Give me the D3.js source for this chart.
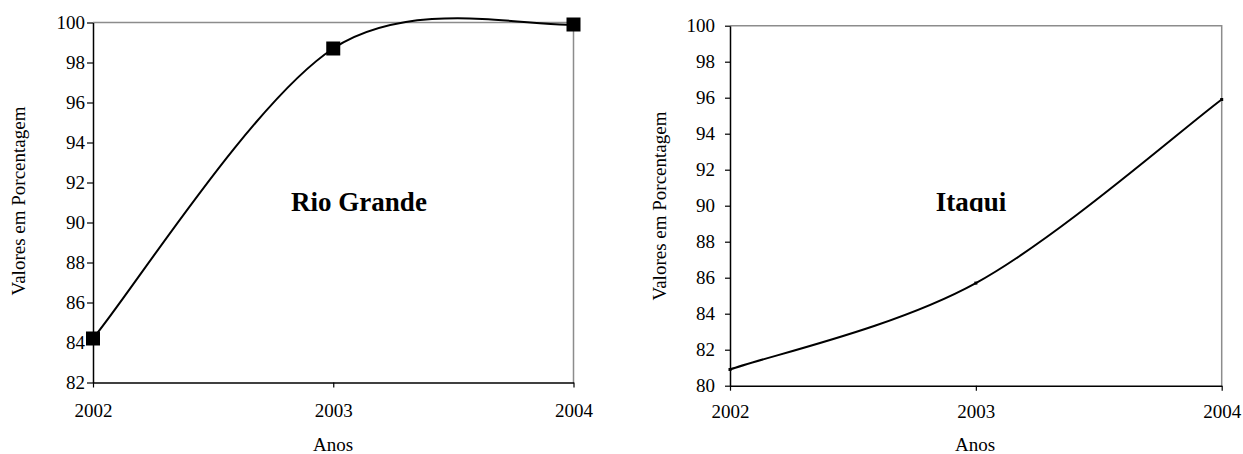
<!DOCTYPE html>
<html>
<head>
<meta charset="utf-8">
<script src="https://cdn.jsdelivr.net/npm/d3@7"></script>
<style>
  html, body { margin: 0; padding: 0; background: #fff; }
  svg { display: block; }
  svg text { font-family: "Liberation Serif", "Times New Roman", Tinos, "DejaVu Serif", serif !important; fill: #000; }
</style>
</head>
<body>
<svg id="chart" width="1243" height="454"></svg>
<script>
// ---- data ----
const years = [2002, 2003, 2004];
const rioGrande = [84.2, 98.7, 99.9];
const itaqui = [80.9, 85.7, 95.9];
const rioTicks = [82, 84, 86, 88, 90, 92, 94, 96, 98, 100];
const itaquiTicks = [80, 82, 84, 86, 88, 90, 92, 94, 96, 98, 100];
const yTitle = "Valores em Porcentagem";
const xTitle = "Anos";

const FONT = '"Liberation Serif", "Times New Roman", Tinos, "DejaVu Serif", serif';

// Excel-like smoothed line (Catmull-Rom with duplicated end points)
function ExcelSmooth(ctx) { this._context = ctx; }
ExcelSmooth.prototype = {
  areaStart() {}, areaEnd() {},
  lineStart() { this._pts = []; },
  point(x, y) { this._pts.push([+x, +y]); },
  lineEnd() {
    const p = this._pts, n = p.length, c = this._context;
    if (!n) return;
    c.moveTo(p[0][0], p[0][1]);
    for (let i = 0; i < n - 1; i++) {
      const p0 = p[Math.max(i - 1, 0)], p1 = p[i], p2 = p[i + 1], p3 = p[Math.min(i + 2, n - 1)];
      c.bezierCurveTo(
        p1[0] + (p2[0] - p0[0]) / 6, p1[1] + (p2[1] - p0[1]) / 6,
        p2[0] - (p3[0] - p1[0]) / 6, p2[1] - (p3[1] - p1[1]) / 6,
        p2[0], p2[1]);
    }
  }
};
const curveExcel = ctx => new ExcelSmooth(ctx);

const svg = d3.select("#chart");
svg.append("rect").attr("width", 1243).attr("height", 454).attr("fill", "#fff");

function panel(cfg) {
  const x = d3.scaleLinear().domain([years[0], years[years.length - 1]]).range([cfg.x0, cfg.x1]);
  const y = d3.scaleLinear().domain([cfg.ticks[0], cfg.ticks[cfg.ticks.length - 1]]).range([cfg.y1, cfg.y0]);
  const g = svg.append("g");

  // gray top & right borders
  g.append("path")
    .attr("d", `M${cfg.x0},${cfg.y0}H${cfg.x1}V${cfg.y1}`)
    .attr("fill", "none").attr("stroke", "#8c8c8c").attr("stroke-width", 1.5);

  // y axis
  const ya = g.append("g").attr("transform", `translate(${cfg.x0},0)`)
    .call(d3.axisLeft(y).tickValues(cfg.ticks).tickSize(cfg.yTick).tickSizeOuter(0).tickPadding(cfg.yPad).tickFormat(d3.format("d")));
  ya.attr("font-family", FONT).attr("font-size", 19);
  ya.select(".domain").attr("stroke", "#000").attr("stroke-width", 1.5);
  ya.selectAll(".tick line").attr("stroke", "#000").attr("stroke-width", 1.2);

  // x axis
  const xa = g.append("g").attr("transform", `translate(0,${cfg.y1})`)
    .call(d3.axisBottom(x).tickValues(years).tickSize(5).tickSizeOuter(0).tickPadding(cfg.xPad).tickFormat(d3.format("d")));
  xa.attr("font-family", FONT).attr("font-size", 19);
  xa.select(".domain").attr("stroke", "#000").attr("stroke-width", 1.5);
  xa.selectAll(".tick line").attr("stroke", "#000").attr("stroke-width", 1.2);

  // line
  const pts = years.map((yr, i) => [yr, cfg.values[i]]);
  g.append("path").datum(pts)
    .attr("d", d3.line().x(d => x(d[0])).y(d => y(d[1])).curve(curveExcel))
    .attr("fill", "none").attr("stroke", "#000").attr("stroke-width", 2);

  // markers
  g.selectAll("rect.mk").data(pts).join("rect").attr("class", "mk")
    .attr("x", d => x(d[0]) - cfg.mk / 2).attr("y", d => y(d[1]) - cfg.mk / 2)
    .attr("width", cfg.mk).attr("height", cfg.mk).attr("fill", "#000");

  // axis titles
  g.append("text")
    .attr("transform", `translate(${cfg.ytX},${cfg.ytY}) rotate(-90)`)
    .attr("text-anchor", "middle").attr("font-family", FONT).attr("font-size", 19).text(yTitle);
  g.append("text")
    .attr("x", cfg.xtX).attr("y", cfg.xtY)
    .attr("text-anchor", "middle").attr("font-family", FONT).attr("font-size", 19).text(xTitle);

  // panel label (clipped at baseline like the original)
  const cid = "clip" + cfg.id;
  svg.append("clipPath").attr("id", cid).append("rect")
    .attr("x", cfg.lblX - 120).attr("y", cfg.lblY - 40).attr("width", 240).attr("height", 41);
  g.append("text")
    .attr("clip-path", `url(#${cid})`)
    .attr("x", cfg.lblX).attr("y", cfg.lblY)
    .attr("text-anchor", "middle").attr("font-family", FONT).attr("font-size", 27).attr("font-weight", "bold")
    .text(cfg.label);
}

panel({ id: 1, x0: 93, x1: 573.5, y0: 22.5, y1: 382.5, ticks: rioTicks, values: rioGrande,
        yTick: 6, yPad: 2, xPad: 16, mk: 14, ytX: 25, ytY: 201, xtX: 333, xtY: 451,
        lblX: 359, lblY: 211, label: "Rio Grande" });
panel({ id: 2, x0: 730, x1: 1221.7, y0: 25.7, y1: 385.7, ticks: itaquiTicks, values: itaqui,
        yTick: 5, yPad: 10, xPad: 14, mk: 3, ytX: 666, ytY: 206, xtX: 975, xtY: 451,
        lblX: 971, lblY: 211, label: "Itaqui" });
</script>
</body>
</html>
